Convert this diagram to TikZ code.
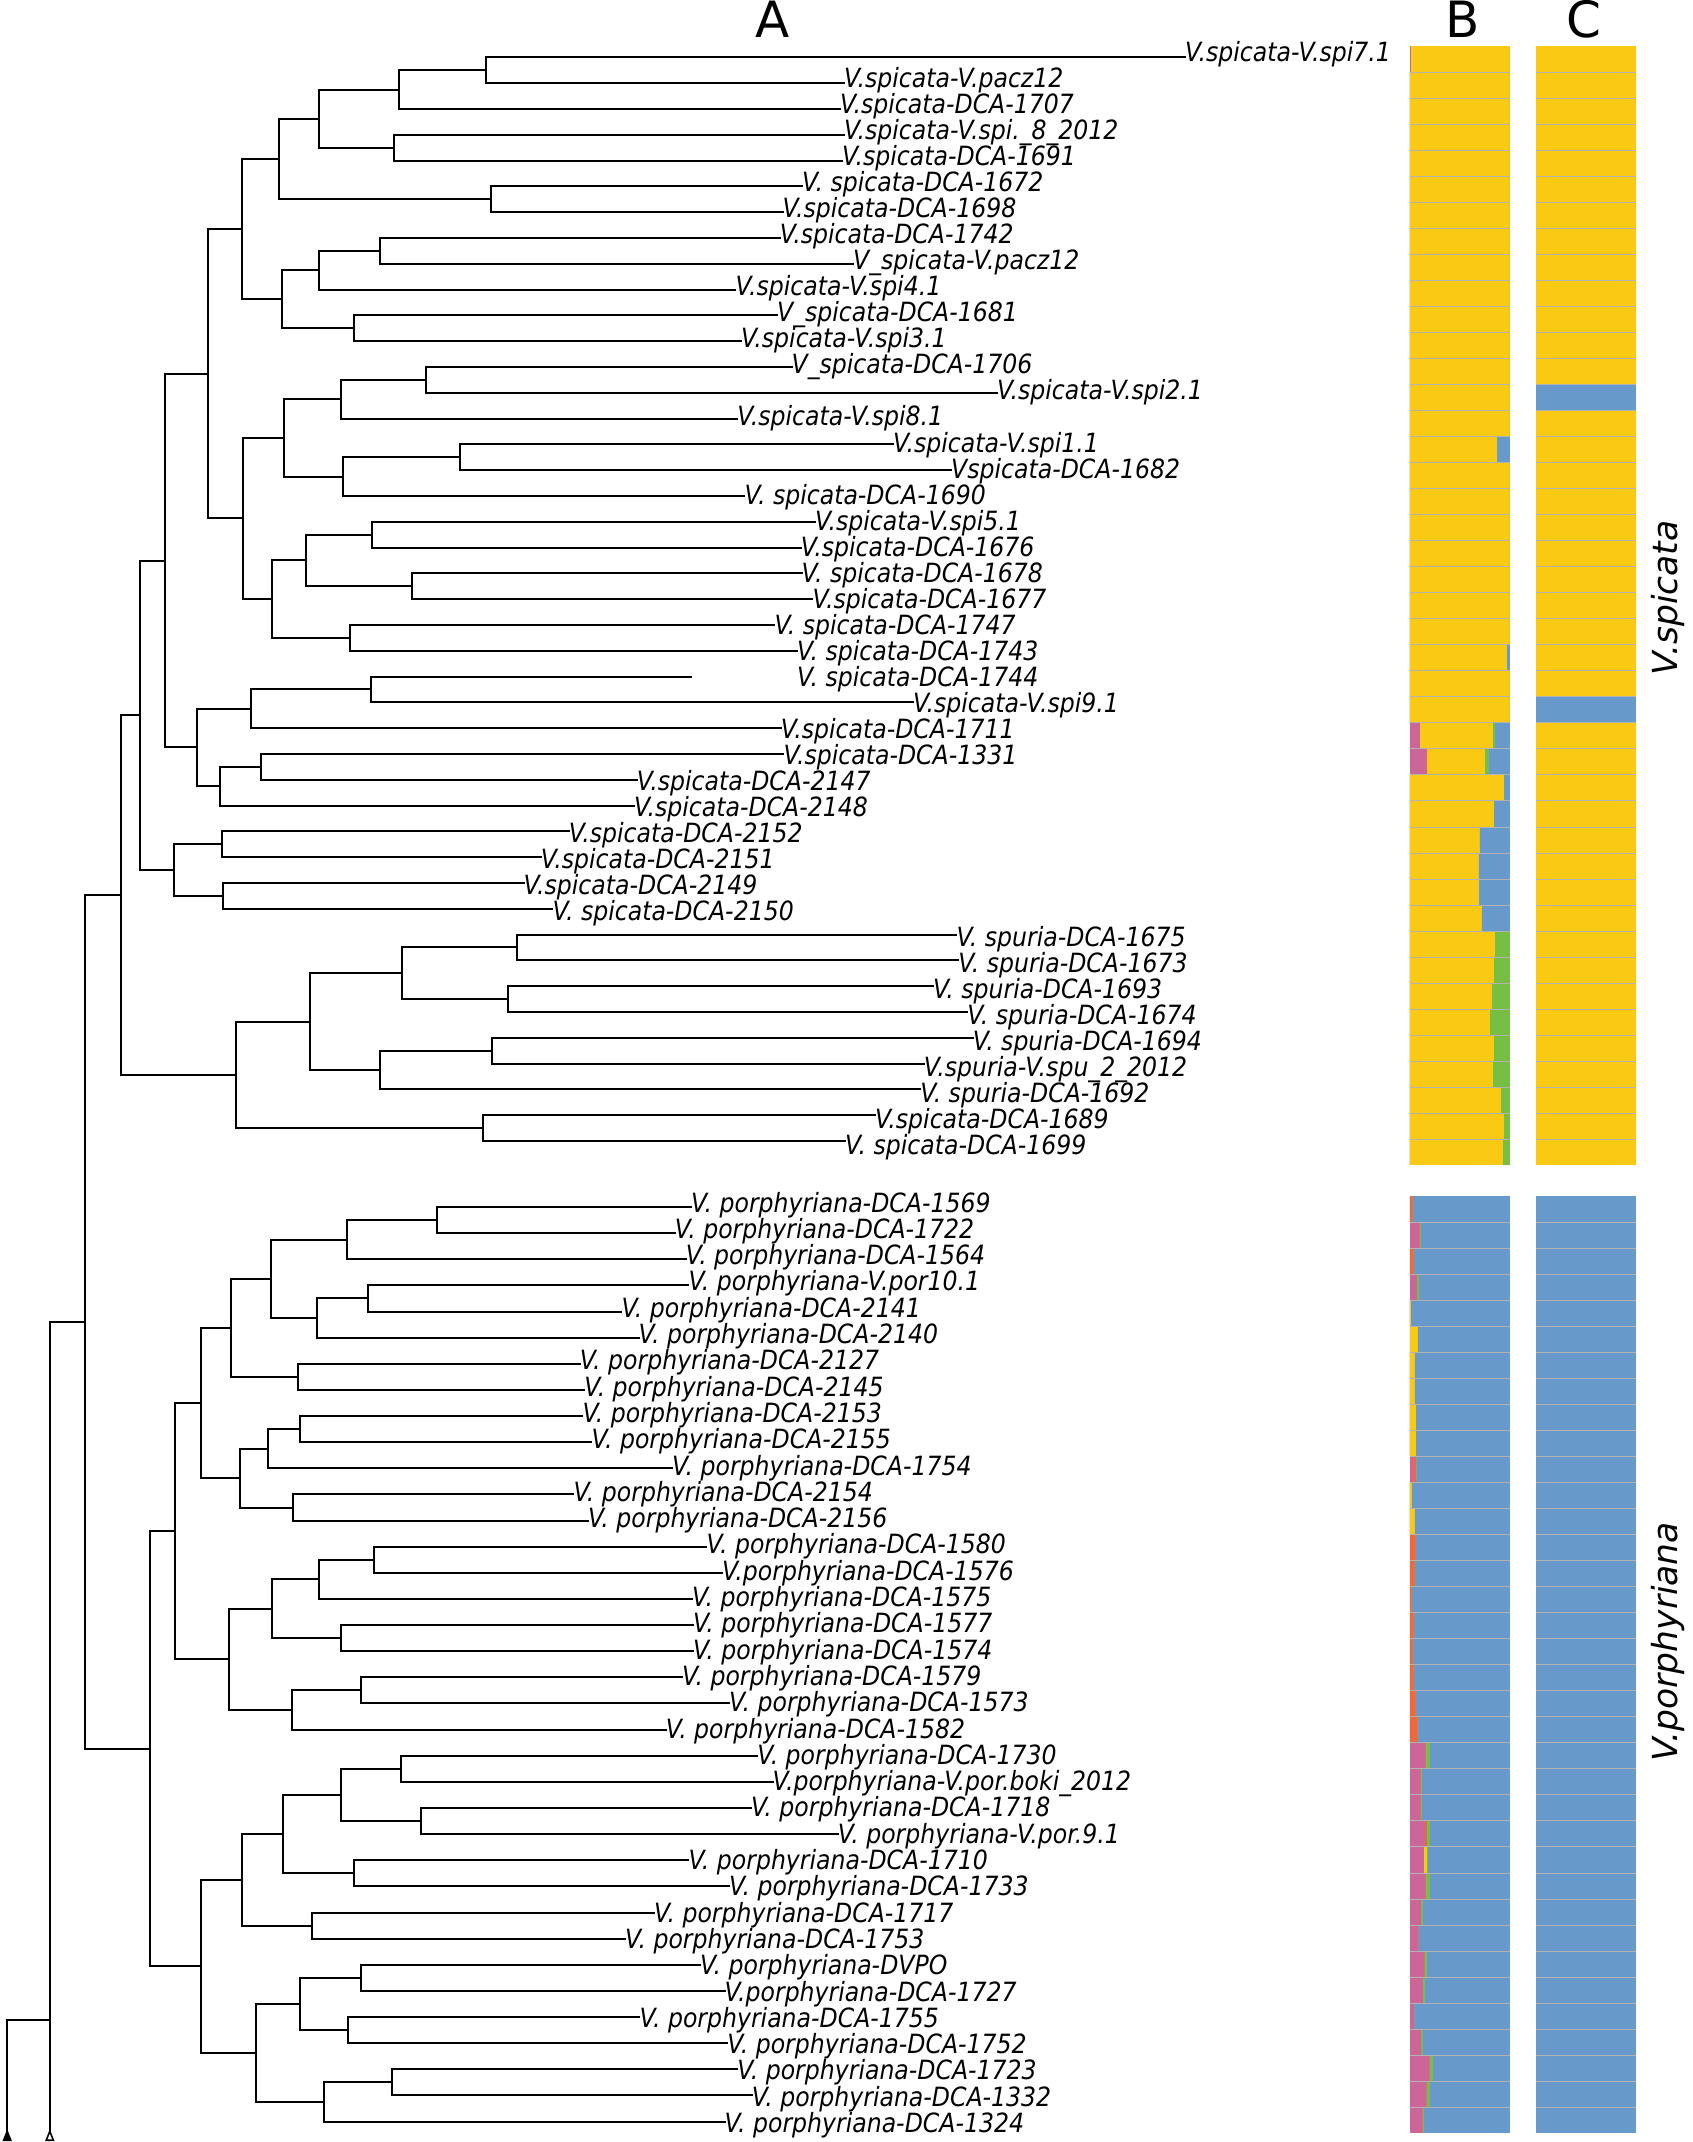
\documentclass[tikz,border=0pt]{standalone}
\usepackage{fontspec}
\setmainfont{DejaVu Sans}
\newfontfamily\labfont{DejaVu Sans}[FakeStretch=0.89]
\usetikzlibrary{arrows.meta}
\definecolor{cY}{RGB}{250,201,20}
\definecolor{cB}{RGB}{103,153,202}
\definecolor{cP}{RGB}{204,102,153}
\definecolor{cG}{RGB}{119,190,68}
\definecolor{cO}{RGB}{236,104,62}
% branch (line) positions
\newcommand\SY[1]{(57.3+25.8*(#1))}
\newcommand\PY[1]{(1207+26.13*(#1))}
% label baselines
\newcommand\SL[1]{(61.7+26.02*(#1))}
\newcommand\PL[1]{(1212+26.3*(#1))}
\tikzset{
  branch/.style={line width=2pt, line cap=rect, black},
  trunk/.style={line width=1.6pt, line cap=butt, black},
  lab/.style={anchor=base west, inner sep=0pt, font=\labfont\itshape\fontsize{26.5}{26.5}\selectfont},
  hdr/.style={anchor=base, inner sep=0pt, font=\fontsize{50}{50}\selectfont},
  side/.style={inner sep=0pt, rotate=90, font=\itshape\fontsize{34.5}{34.5}\selectfont},
  sep/.style={draw=black!30, line width=0.6pt}
}
\begin{document}
\begin{tikzpicture}[x=1pt,y=-1pt]
\useasboundingbox (0,0) rectangle (1693,2142);
% ---------- headers ----------
\node[hdr] (hA) at (773,37.5) {A};
\node[hdr] (hB) at (1463,37.5) {B};
\node[hdr] (hC) at (1584,37.5) {C};
\node[side] (tS) at (1668,598) {V.spicata};
\node[side] (tP) at (1668,1642) {V.porphyriana};
% ---------- internal nodes: spicata ----------
\foreach \n/\xx/\ii in {sA/486/0.5, sB/399.4/1.25, sC/394/3.5, sD/318.8/2.375, sE/490.9/5.5,
  sF/279/3.9375, sG/380.4/7.5, sH/318.8/8.25, sI/354/10.5, sJ/281.7/9.375, sK/241.8/6.65625,
  sL/425.6/12.5, sM/340.5/13.25, sN/460/15.5, sO/343.2/16.25, sP/283.5/14.75, sQ/372.2/18.5,
  sR/412/20.5, sS/306.1/19.5, sT/349.6/22.5, sU/271.7/21, sV/242.7/17.875, sW/208.3/12.265625,
  sX/371.3/24.5, sY/250.9/25.25, sZ/260.8/27.5, sAA/220.1/28.25, sAB/196.5/26.75,
  sAC/164.8/19.5078125, sAD/221.9/30.5, sAE/222.8/32.5, sAF/173.9/31.5, sAG/140.4/25.50390625,
  sAH/517.1/34.5, sAI/508/36.5, sAJ/402.1/35.5, sAK/491.8/38.5, sAL/379.5/39.25,
  sAM/309.7/37.375, sAN/482.7/41.5, sAO/235.5/39.4375, sAP/121.4/32.470703125}
  {\coordinate (\n) at (\xx,{\SY{\ii}});}
% ---------- internal nodes: porphyriana ----------
\foreach \n/\xx/\ii in {pA/436.5/0.5, pB/346.9/1.25, pC/367.7/3.5, pD/317/4.25, pE/270.8/2.75,
  pF/298/6.5, pG/230.9/4.625, pH/299.8/8.5, pI/268.1/9.25, pJ/292.5/11.5, pK/240/10.375,
  pL/201/7.5, pM/374/13.5, pN/318.8/14.25, pO/340.5/16.5, pP/271.7/15.375, pQ/361.3/18.5,
  pR/291.6/19.25, pS/229.1/17.3125, pT/174.8/12.40625, pU/401.2/21.5, pV/421.1/23.5,
  pW/340.5/22.5, pX/354.1/25.5, pY/282.6/24, pZ/311.5/27.5, pAA/241.8/25.75, pAB/361.3/29.5,
  pAC/347.8/31.5, pAD/299.8/30.5, pAE/392.1/33.5, pAF/324.2/34.25, pAG/256.3/32.375,
  pAH/201/29.0625, pAI/150.3/20.734375}
  {\coordinate (\n) at (\xx,{\PY{\ii}});}
% ---------- roots ----------
\coordinate (R2) at (85.1,{0.5*(\SY{32.470703125}+\PY{20.734375})});
\coordinate (R1) at (49.8,{0.5*(\SY{32.470703125}+\PY{20.734375})});
\coordinate (R1b) at (49.8,2020.3);
\coordinate (R0) at (7.2,2020.3);
\coordinate (E1) at (49.8,2141);
\coordinate (E0) at (7.2,2141);
% ---------- internal edges ----------
\foreach \a/\b in {sB/sA, sD/sB, sD/sC, sF/sD, sF/sE, sH/sG, sJ/sH, sJ/sI, sK/sF, sK/sJ,
  sM/sL, sO/sN, sP/sM, sP/sO, sS/sQ, sS/sR, sU/sS, sU/sT, sV/sP, sV/sU, sW/sK, sW/sV,
  sY/sX, sAA/sZ, sAB/sY, sAB/sAA, sAC/sW, sAC/sAB, sAF/sAD, sAF/sAE, sAG/sAC, sAG/sAF,
  sAJ/sAH, sAJ/sAI, sAL/sAK, sAM/sAJ, sAM/sAL, sAO/sAM, sAO/sAN, sAP/sAG, sAP/sAO, R2/sAP,
  pB/pA, pD/pC, pE/pB, pE/pD, pG/pE, pG/pF, pI/pH, pK/pI, pK/pJ, pL/pG, pL/pK, pN/pM,
  pP/pN, pP/pO, pR/pQ, pS/pP, pS/pR, pT/pL, pT/pS, pW/pU, pW/pV, pY/pW, pY/pX, pAA/pY,
  pAA/pZ, pAD/pAB, pAD/pAC, pAF/pAE, pAG/pAD, pAG/pAF, pAH/pAA, pAH/pAG, pAI/pT, pAI/pAH,
  R2/pAI}
  {\draw[branch] (\a) |- (\b);}
\draw[branch] (R1) -- (R2);
\draw[branch] (R0) -- (R1b);
\draw[trunk, -{Triangle[reversed, open, length=12pt, width=9pt]}] (R1) -- (E1);
\draw[trunk, -{Triangle[reversed, length=12pt, width=9pt]}] (R0) -- (E0);
% ---------- leaves: spicata ----------
\foreach \n/\p/\i/\e/\t in {
  s0/sA/0/1185/{V.spicata-V.spi7.1}, s1/sA/1/844/{V.spicata-V.pacz12},
  s2/sB/2/840/{V.spicata-DCA-1707}, s3/sC/3/844/{V.spicata-V.spi.\_8\_2012},
  s4/sC/4/842/{V.spicata-DCA-1691}, s5/sE/5/802/{V. spicata-DCA-1672},
  s6/sE/6/782.5/{V.spicata-DCA-1698}, s7/sG/7/779.7/{V.spicata-DCA-1742},
  s8/sG/8/853/{V\_spicata-V.pacz12}, s9/sH/9/735.4/{V.spicata-V.spi4.1},
  s10/sI/10/777/{V\_spicata-DCA-1681}, s11/sI/11/740.8/{V.spicata-V.spi3.1},
  s12/sL/12/791.5/{V\_spicata-DCA-1706}, s13/sL/13/997/{V.spicata-V.spi2.1},
  s14/sM/14/737.2/{V.spicata-V.spi8.1}, s15/sN/15/893/{V.spicata-V.spi1.1},
  s16/sN/16/951/{Vspicata-DCA-1682}, s17/sO/17/744.4/{V. spicata-DCA-1690},
  s18/sQ/18/815/{V.spicata-V.spi5.1}, s19/sQ/19/800.6/{V.spicata-DCA-1676},
  s20/sR/20/801.5/{V. spicata-DCA-1678}, s21/sR/21/812.4/{V.spicata-DCA-1677},
  s22/sT/22/774.3/{V. spicata-DCA-1747}, s23/sT/23/797/{V. spicata-DCA-1743},
  s25/sX/25/913/{V.spicata-V.spi9.1}, s26/sY/26/780.7/{V.spicata-DCA-1711},
  s27/sZ/27/783.4/{V.spicata-DCA-1331}, s28/sZ/28/636.7/{V.spicata-DCA-2147},
  s29/sAA/29/634/{V.spicata-DCA-2148}, s30/sAD/30/568.7/{V.spicata-DCA-2152},
  s31/sAD/31/540.7/{V.spicata-DCA-2151}, s32/sAE/32/523.5/{V.spicata-DCA-2149},
  s33/sAE/33/552.4/{V. spicata-DCA-2150}, s34/sAH/34/956.3/{V. spuria-DCA-1675},
  s35/sAH/35/958.2/{V. spuria-DCA-1673}, s36/sAI/36/932.8/{V. spuria-DCA-1693},
  s37/sAI/37/967.2/{V. spuria-DCA-1674}, s38/sAK/38/972.6/{V. spuria-DCA-1694},
  s39/sAK/39/923.7/{V.spuria-V.spu\_2\_2012}, s40/sAL/40/920.1/{V. spuria-DCA-1692},
  s41/sAN/41/874.8/{V.spicata-DCA-1689}, s42/sAN/42/845/{V. spicata-DCA-1699}}
{
  \coordinate (\n) at (\e,{\SY{\i}});
  \draw[branch] (\p) |- (\n);
  \node[lab] (\n l) at (\e,{\SL{\i}}) {\t};
}
\coordinate (s24) at (691,{\SY{24}});
\draw[branch] (sX) |- (s24);
\node[lab] (s24l) at (797,{\SL{24}}) {V. spicata-DCA-1744};
% ---------- leaves: porphyriana ----------
\foreach \n/\p/\i/\e/\t in {
  q0/pA/0/691/{V. porphyriana-DCA-1569}, q1/pA/1/674.7/{V. porphyriana-DCA-1722},
  q2/pB/2/685.6/{V. porphyriana-DCA-1564}, q3/pC/3/688.3/{V. porphyriana-V.por10.1},
  q4/pC/4/621.3/{V. porphyriana-DCA-2141}, q5/pD/5/638.5/{V. porphyriana-DCA-2140},
  q6/pF/6/579.6/{V. porphyriana-DCA-2127}, q7/pF/7/584.1/{V. porphyriana-DCA-2145},
  q8/pH/8/582.3/{V. porphyriana-DCA-2153}, q9/pH/9/591.4/{V. porphyriana-DCA-2155},
  q10/pI/10/672/{V. porphyriana-DCA-1754}, q11/pJ/11/573.3/{V. porphyriana-DCA-2154},
  q12/pJ/12/587.8/{V. porphyriana-DCA-2156}, q13/pM/13/706.4/{V. porphyriana-DCA-1580},
  q14/pM/14/721.8/{V.porphyriana-DCA-1576}, q15/pN/15/691.9/{V. porphyriana-DCA-1575},
  q16/pO/16/692.8/{V. porphyriana-DCA-1577}, q17/pO/17/692.8/{V. porphyriana-DCA-1574},
  q18/pQ/18/681.9/{V. porphyriana-DCA-1579}, q19/pQ/19/729/{V. porphyriana-DCA-1573},
  q20/pR/20/665.6/{V. porphyriana-DCA-1582}, q21/pU/21/757.1/{V. porphyriana-DCA-1730},
  q22/pU/22/772.5/{V.porphyriana-V.por.boki\_2012}, q23/pV/23/750.8/{V. porphyriana-DCA-1718},
  q24/pV/24/837.7/{V. porphyriana-V.por.9.1}, q25/pX/25/688.3/{V. porphyriana-DCA-1710},
  q26/pX/26/729/{V. porphyriana-DCA-1733}, q27/pZ/27/653.9/{V. porphyriana-DCA-1717},
  q28/pZ/28/624.9/{V. porphyriana-DCA-1753}, q29/pAB/29/700/{V. porphyriana-DVPO},
  q30/pAB/30/724.5/{V.porphyriana-DCA-1727}, q31/pAC/31/639.4/{V. porphyriana-DCA-1755},
  q32/pAC/32/727.2/{V. porphyriana-DCA-1752}, q33/pAE/33/737.2/{V. porphyriana-DCA-1723},
  q34/pAE/34/751.7/{V. porphyriana-DCA-1332}, q35/pAF/35/724.5/{V. porphyriana-DCA-1324}}
{
  \coordinate (\n) at (\e,{\PY{\i}});
  \draw[branch] (\p) |- (\n);
  \node[lab] (\n l) at (\e,{\PL{\i}}) {\t};
}
% ---------- column B (admixture bars) ----------
% row: index / pink end / orange end / yellow end / green end ; rest blue
\foreach \top/\hh/\rows in {46.2/26.02/{0/.012/.012/1/1, 1/0/0/1/1, 2/0/0/1/1, 3/0/0/1/1, 4/0/0/1/1,
  5/0/0/1/1, 6/0/0/1/1, 7/0/0/1/1, 8/0/0/1/1, 9/0/0/1/1, 10/0/0/1/1, 11/0/0/1/1, 12/0/0/1/1,
  13/0/0/1/1, 14/0/0/1/1, 15/0/0/.877/.877, 16/0/0/1/1, 17/0/0/1/1, 18/0/0/1/1, 19/0/0/1/1,
  20/0/0/1/1, 21/0/0/1/1, 22/0/0/1/1, 23/0/0/.977/.977, 24/0/0/1/1, 25/0/0/1/1,
  26/.106/.106/.83/.854, 27/.173/.173/.757/.794, 28/0/0/.947/.947, 29/0/0/.847/.847,
  30/0/0/.704/.704, 31/0/0/.691/.691, 32/0/0/.698/.698, 33/0/0/.724/.724, 34/0/0/.857/1,
  35/0/0/.844/1, 36/0/0/.827/1, 37/0/0/.804/1, 38/0/0/.841/1, 39/0/0/.831/1, 40/0/0/.917/1,
  41/0/0/.944/1, 42/0/0/.937/1},
  1196/26.03/{0/0/.033/.033/.033, 1/.1/.1/.1/.116, 2/0/.04/.04/.04, 3/.076/.076/.076/.093,
  4/0/0/.017/.017, 5/0/.005/.083/.083, 6/0/0/.053/.053, 7/0/0/.05/.05, 8/0/0/.066/.066,
  9/0/0/.066/.066, 10/.033/.066/.066/.066, 11/0/0/.02/.02, 12/0/0/.053/.053, 13/0/.06/.06/.06,
  14/0/.05/.05/.05, 15/0/.023/.023/.023, 16/0/.043/.043/.043, 17/0/.03/.03/.03,
  18/0/.043/.043/.043, 19/0/.063/.063/.063, 20/0/.08/.08/.08, 21/.163/.163/.163/.206,
  22/.11/.11/.11/.123, 23/.11/.11/.11/.123, 24/.156/.176/.176/.203, 25/.146/.146/.17/.18,
  26/.16/.16/.16/.2, 27/.116/.116/.116/.133, 28/.09/.09/.09/.09, 29/.15/.15/.15/.173,
  30/.136/.136/.136/.153, 31/.047/.047/.047/.047, 32/.116/.116/.116/.13, 33/.2/.2/.2/.233,
  34/.173/.173/.173/.2, 35/.13/.13/.13/.146}}
{
  \foreach \i/\pp/\oo/\yy/\gg in \rows {
    \pgfmathsetmacro\ta{\top+\hh*\i}
    \pgfmathsetmacro\tb{\ta+\hh}
    \fill[cB] (1409.5,\ta) rectangle (1509.5,\tb);
    \fill[cP] (1409.5,\ta) rectangle ({1409.5+100*\pp},\tb);
    \fill[cO] ({1409.5+100*\pp},\ta) rectangle ({1409.5+100*\oo},\tb);
    \fill[cY] ({1409.5+100*\oo},\ta) rectangle ({1409.5+100*\yy},\tb);
    \fill[cG] ({1409.5+100*\yy},\ta) rectangle ({1409.5+100*\gg},\tb);
  }
}
% ---------- column C ----------
\fill[cY] (1535.5,46.2) rectangle (1636,{46.2+26.02*43});
\fill[cB] (1535.5,{46.2+26.02*13}) rectangle (1636,{46.2+26.02*14});
\fill[cB] (1535.5,{46.2+26.02*25}) rectangle (1636,{46.2+26.02*26});
\fill[cB] (1535.5,1196) rectangle (1636,{1196+26.03*36});
% ---------- row separators ----------
\foreach \k in {1,...,42} {
  \draw[sep] (1409.5,{46.2+26.02*\k}) -- (1509.5,{46.2+26.02*\k});
  \draw[sep] (1535.5,{46.2+26.02*\k}) -- (1636,{46.2+26.02*\k});
}
\foreach \k in {1,...,35} {
  \draw[sep] (1409.5,{1196+26.03*\k}) -- (1509.5,{1196+26.03*\k});
  \draw[sep] (1535.5,{1196+26.03*\k}) -- (1636,{1196+26.03*\k});
}
\end{tikzpicture}
\end{document}
